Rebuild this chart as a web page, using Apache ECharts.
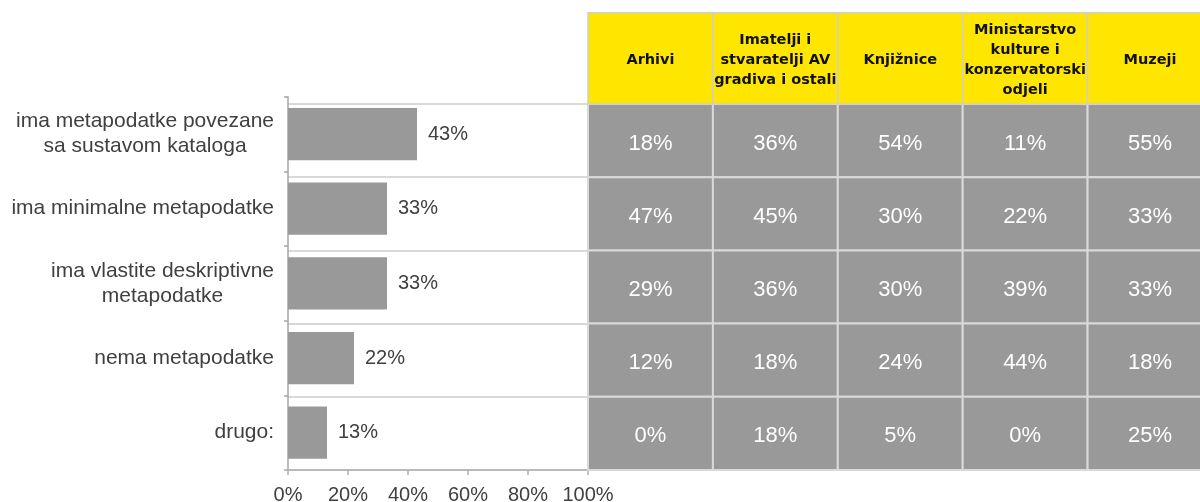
<!DOCTYPE html>
<html>
<head>
<meta charset="utf-8">
<script src="https://cdn.jsdelivr.net/npm/echarts@6/dist/echarts.min.js"></script>
<style>
html,body{margin:0;padding:0;background:#fff;}
#chart{width:1200px;height:502px;}
</style>
</head>
<body>
<div id="chart"></div>
<script>
// ---- data ----
const categories = [
  'ima metapodatke povezane\nsa sustavom kataloga',
  'ima minimalne metapodatke',
  'ima vlastite deskriptivne\nmetapodatke',
  'nema metapodatke',
  'drugo:'
];
const totalValues = [43, 33, 33, 22, 13];
const tableColumns = [
  'Arhivi',
  'Imatelji i\nstvaratelji AV\ngradiva i ostali',
  'Knjižnice',
  'Ministarstvo\nkulture i\nkonzervatorski\nodjeli',
  'Muzeji'
];
const arhivi = [18, 47, 29, 12, 0];
const imatelji = [36, 45, 36, 18, 18];
const knjiznice = [54, 30, 30, 24, 5];
const ministarstvo = [11, 22, 39, 44, 0];
const muzeji = [55, 33, 33, 18, 25];
const xTicks = [0, 20, 40, 60, 80, 100];

// ---- build ----
const columnValues = [arhivi, imatelji, knjiznice, ministarstvo, muzeji];
const tableData = [];
columnValues.forEach((col, ci) => col.forEach((v, ri) => tableData.push([ci, ri, v])));
const headerData = tableColumns.map((_, ci) => [ci, 0]);

const ARIAL = 'Liberation Sans, Arial, sans-serif';
const chart = echarts.init(document.getElementById('chart'));

// table x axis: columns centred on 0..4, last column cut by the right edge
const tableX = { type: 'value', min: -0.5, max: 4.4, show: false };

chart.setOption({
  animation: false,
  backgroundColor: '#fff',
  grid: [
    { left: 288, top: 96.7, width: 300, height: 373.3, outerBoundsMode: 'none' },   // bars
    { left: 288, top: 104, width: 300, height: 366, outerBoundsMode: 'none' },      // row lines behind bars
    { left: 588, top: 104, width: 612, height: 366, outerBoundsMode: 'none' },      // table body
    { left: 588, top: 12.7, width: 612, height: 91.3, outerBoundsMode: 'none' }     // table header
  ],
  xAxis: [
    {
      gridIndex: 0, type: 'value', min: xTicks[0], max: xTicks[xTicks.length - 1], interval: 20,
      axisLine: { show: true, lineStyle: { color: '#b0b0b0', width: 1.5 } },
      axisTick: { show: true, length: 5, lineStyle: { color: '#b0b0b0', width: 1.5 } },
      splitLine: { show: false },
      axisLabel: { formatter: '{value}%', color: '#404040', fontSize: 20, fontFamily: ARIAL, margin: 15 }
    },
    { gridIndex: 1, type: 'value', min: 0, max: 1, show: false },
    Object.assign({ gridIndex: 2 }, tableX),
    Object.assign({ gridIndex: 3 }, tableX)
  ],
  yAxis: [
    {
      gridIndex: 0, type: 'category', data: categories, inverse: true,
      axisLine: { show: true, lineStyle: { color: '#a6a6a6', width: 1.5 } },
      axisTick: { show: true, length: 4, lineStyle: { color: '#a6a6a6', width: 1.5 } },
      splitLine: { show: false },
      axisLabel: {
        margin: 14,
        formatter: v => v.split('\n').map(l => '{c|' + l + '}').join('\n'),
        rich: { c: { align: 'center', fontSize: 21, lineHeight: 25, color: '#404040', fontFamily: ARIAL } }
      }
    },
    {
      gridIndex: 1, type: 'category', data: categories, inverse: true,
      axisLine: { show: false }, axisTick: { show: false }, axisLabel: { show: false },
      splitLine: { show: true, lineStyle: { color: '#d9d9d9', width: 2 } }
    },
    { gridIndex: 2, type: 'category', data: categories, inverse: true, show: false },
    { gridIndex: 3, type: 'category', data: ['header'], show: false }
  ],
  series: [
    {
      type: 'bar', xAxisIndex: 0, yAxisIndex: 0, data: totalValues, barWidth: '70%',
      itemStyle: { color: '#999999' },
      label: {
        show: true, position: 'right', distance: 11, formatter: '{c}%',
        color: '#404040', fontSize: 20, fontFamily: ARIAL
      },
      z: 3
    },
    {
      type: 'custom', xAxisIndex: 2, yAxisIndex: 2, data: tableData,
      renderItem: (params, api) => {
        const c = api.coord([api.value(0), api.value(1)]);
        const s = api.size([1, 1]);
        return {
          type: 'group', children: [
            { type: 'rect', shape: { x: c[0] - s[0] / 2, y: c[1] - s[1] / 2, width: s[0], height: s[1] },
              style: { fill: '#999999', stroke: '#d9d9d9', lineWidth: 2 } },
            { type: 'text', style: { text: api.value(2) + '%', x: c[0], y: c[1] + 3, align: 'center', verticalAlign: 'middle',
              fill: '#ffffff', fontSize: 22, fontFamily: ARIAL } }
          ]
        };
      }
    },
    {
      type: 'custom', xAxisIndex: 3, yAxisIndex: 3, data: headerData,
      renderItem: (params, api) => {
        const c = api.coord([api.value(0), api.value(1)]);
        const s = api.size([1, 1]);
        return {
          type: 'group', children: [
            { type: 'rect', shape: { x: c[0] - s[0] / 2, y: c[1] - s[1] / 2, width: s[0], height: s[1] },
              style: { fill: '#FFE600', stroke: '#cfcfcf', lineWidth: 1.5 } },
            { type: 'text', style: { text: tableColumns[params.dataIndex], x: c[0], y: c[1] + 2, align: 'center', verticalAlign: 'middle',
              fill: '#111111', fontSize: 14.5, fontWeight: 'bold', lineHeight: 20, fontFamily: 'DejaVu Sans, sans-serif' } }
          ]
        };
      }
    }
  ]
});
</script>
</body>
</html>
